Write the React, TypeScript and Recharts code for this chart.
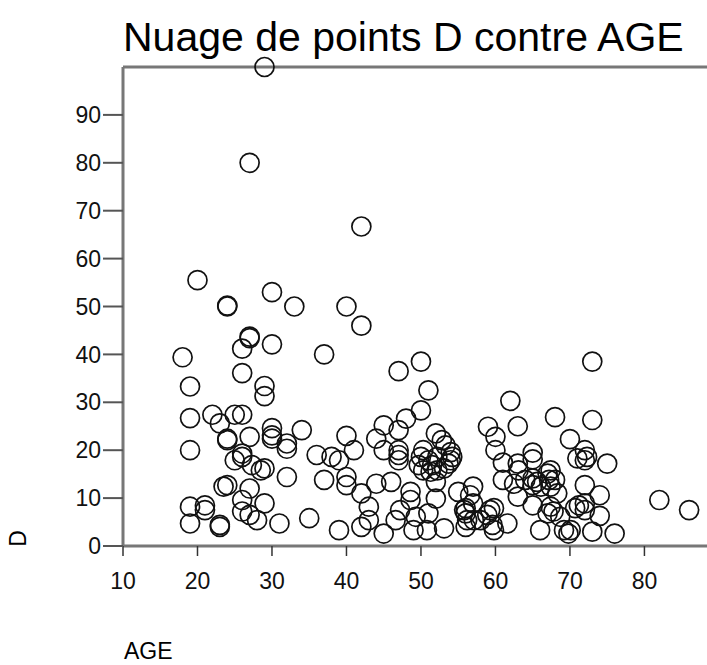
import { ScatterChart, Scatter, XAxis, YAxis, ReferenceLine } from 'recharts';

// AGE / D pairs
const ageValues = [
  29, 27, 42, 20, 24, 24, 30, 33, 40, 42,
  27, 27, 26, 30, 18, 37, 50, 73, 47, 26,
  19, 29, 29, 51, 62, 19, 22, 25, 26, 23,
  30, 34, 50, 48, 45, 47, 59, 63, 68, 73,
  24, 24, 27, 30, 30, 32, 32, 19, 26, 26,
  25, 27.3, 28.5, 29, 32, 24, 23.5, 27, 26, 29,
  19, 21, 21, 26, 27, 28, 19, 23, 23, 31,
  35, 36, 40, 44, 41, 45, 47, 47, 47, 38,
  39, 52, 52.8, 53.3, 54, 54.2, 50.3, 50, 49.7, 50.3,
  51.3, 52.2, 53.1, 53.7, 52.2, 51, 51.5, 54, 52, 52,
  51, 48.6, 48.6, 44, 46, 37, 40, 40, 42, 47.2,
  46.6, 49.3, 49, 45, 50.8, 53.1, 55, 57, 56, 56,
  56.2, 56, 57, 43, 43, 39, 42, 60, 60, 61,
  63, 63.1, 65, 65, 67, 67.2, 61, 62.5, 64, 65,
  65.6, 66.1, 65, 63, 65, 56.6, 67, 67.8, 66, 61.6,
  59.8, 59.6, 58.9, 59.3, 59.8, 58, 57.1, 55.8, 70, 72,
  71, 72, 72.3, 75, 72, 74, 71.2, 72, 72, 70.7,
  74, 67.4, 68, 67.4, 68.3, 67.4, 68.7, 69.2, 69.8, 70.1,
  73, 76, 82, 86,
];

const dValues = [
  100, 80, 66.7, 55.5, 50, 50.2, 53, 50, 50, 46,
  43.7, 43.4, 41.2, 42.1, 39.4, 40, 38.5, 38.5, 36.5, 36.1,
  33.3, 33.4, 31.3, 32.5, 30.3, 26.7, 27.4, 27.4, 27.4, 25.6,
  24.6, 24.2, 28.3, 26.6, 25.2, 24.2, 24.9, 25, 26.9, 26.3,
  22.1, 22.4, 22.8, 23.1, 22.4, 21.4, 20.3, 20, 18.6, 19.3,
  17.9, 16.9, 15.8, 16.2, 14.4, 12.7, 12.4, 12, 9.6, 8.9,
  8.2, 8.5, 7.5, 7.2, 6.5, 5.4, 4.7, 4.4, 4, 4.7,
  5.8, 19, 23, 22.4, 20, 20, 20, 19, 17.9, 18.6,
  17.9, 23.5, 22.1, 21, 19.6, 18.6, 20, 18.6, 16.9, 15.8,
  15.5, 15.8, 16.2, 17.2, 18.6, 17.9, 16.9, 17.9, 13.4, 9.9,
  6.8, 11.3, 9.6, 13, 13.4, 13.8, 14.4, 12.7, 11, 7.5,
  5.4, 6.1, 3.3, 2.6, 3.3, 3.7, 11.3, 12.4, 7.9, 6.8,
  5.4, 4, 8.9, 8.2, 5.4, 3.3, 4, 22.8, 20, 17.4,
  17.2, 15.8, 19.5, 18.1, 15.1, 13.8, 13.8, 13, 13.8, 14.1,
  13.4, 12.4, 12.7, 10.3, 8.5, 10.6, 6.8, 7.2, 3.3, 4.7,
  3.3, 4.4, 6.5, 7.5, 7.9, 5.4, 5.4, 7.5, 22.3, 20,
  18.3, 17.9, 18.6, 17.2, 12.7, 10.6, 8.5, 8.9, 7.5, 7.9,
  6.3, 15.8, 13.8, 12.4, 11, 8.2, 6.1, 3.3, 2.6, 3.3,
  3, 2.6, 9.6, 7.5,
];

const xTicks = [10, 20, 30, 40, 50, 60, 70, 80];
const yTicks = [0, 10, 20, 30, 40, 50, 60, 70, 80, 90];

const data = ageValues.map((age, i) => ({ age, d: dValues[i] }));

const font = '"Liberation Sans", Arial, sans-serif';

function Ring(props: any) {
  return <circle cx={props.cx} cy={props.cy} r={9.5} fill="none" stroke="#111" strokeWidth={1.7} />;
}

export default function App() {
  return (
    <div style={{ position: 'absolute', left: 0, top: 0, width: 707, height: 665, background: '#fff', fontFamily: font }}>
      <ScatterChart width={707} height={665} margin={{ top: 67, right: 0, bottom: 0, left: 0 }}>
        <XAxis
          type="number"
          dataKey="age"
          domain={[10, 88.4]}
          ticks={xTicks}
          height={119}
          tickSize={10}
          tickMargin={17}
          axisLine={{ stroke: '#777', strokeWidth: 3 }}
          tickLine={{ stroke: '#333', strokeWidth: 1.5 }}
          tick={{ fill: '#111', fontSize: 23, fontFamily: font }}
        />
        <YAxis
          type="number"
          dataKey="d"
          domain={[0, 100]}
          ticks={yTicks}
          width={123}
          tickSize={20}
          tickMargin={2}
          axisLine={{ stroke: '#777', strokeWidth: 3 }}
          tickLine={{ stroke: '#555', strokeWidth: 2 }}
          tick={{ fill: '#111', fontSize: 23, fontFamily: font }}
        />
        <ReferenceLine y={100} stroke="#777" strokeWidth={3} />
        <Scatter data={data} shape={Ring} isAnimationActive={false} />
      </ScatterChart>
      <div style={{ position: 'absolute', left: 123, top: 17, fontSize: 41, lineHeight: 1, whiteSpace: 'nowrap', color: '#000' }}>
        Nuage de points D contre AGE
      </div>
      <div style={{ position: 'absolute', left: 124, top: 640, fontSize: 23, lineHeight: 1, color: '#000' }}>AGE</div>
      <div style={{ position: 'absolute', left: 10, top: 527, fontSize: 23, lineHeight: 1, color: '#000', transform: 'rotate(-90deg)' }}>D</div>
    </div>
  );
}
